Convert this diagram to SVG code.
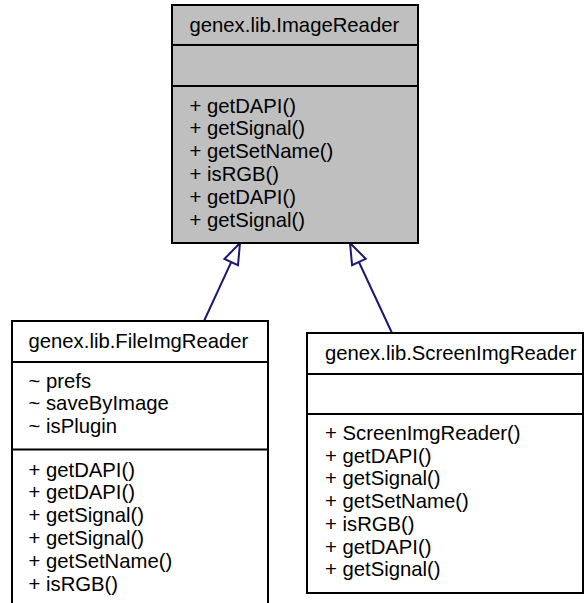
<svg xmlns="http://www.w3.org/2000/svg" width="587" height="603" viewBox="0 0 587 603">
  <style>
    .box { stroke: #000000; stroke-width: 2; }
    .base { fill: #bfbfbf; }
    .sub { fill: #ffffff; }
    .sep { stroke: #000000; stroke-width: 2; }
    text { font-family: "Liberation Sans", Arial, sans-serif; font-size: 20.3px; fill: #000000; }
    .edge { stroke: #191970; stroke-width: 2; fill: none; }
    .head { stroke: #191970; stroke-width: 2; fill: #ffffff; stroke-linejoin: miter; }
  </style>

  <rect width="587" height="603" fill="#ffffff"/>

  <!-- inheritance edges -->
  <g id="edges">
    <line class="edge" x1="204" y1="321" x2="231.2" y2="262.1"/>
    <polygon class="head" points="240,243 238,265.2 224.4,259"/>
    <line class="edge" x1="392" y1="333" x2="358.9" y2="262"/>
    <polygon class="head" points="350,243 365.7,258.8 352.1,265.2"/>
  </g>

  <!-- base class -->
  <g id="ImageReader">
    <rect class="box base" x="172" y="5" width="246" height="238"/>
    <line class="sep" x1="172" y1="45" x2="418" y2="45"/>
    <line class="sep" x1="172" y1="86" x2="418" y2="86"/>
    <text x="189.5" y="31.5">genex.lib.ImageReader</text>
    <text x="189.5" y="112.5">+ getDAPI()</text>
    <text x="189.5" y="135.3">+ getSignal()</text>
    <text x="189.5" y="158.1">+ getSetName()</text>
    <text x="189.5" y="180.9">+ isRGB()</text>
    <text x="189.5" y="203.7">+ getDAPI()</text>
    <text x="189.5" y="226.5">+ getSignal()</text>
  </g>

  <!-- file based reader -->
  <g id="FileImgReader">
    <rect class="box sub" x="12" y="321" width="256" height="290"/>
    <line class="sep" x1="12" y1="362" x2="268" y2="362"/>
    <line class="sep" x1="12" y1="449.5" x2="268" y2="449.5"/>
    <text x="28.5" y="347.5">genex.lib.FileImgReader</text>
    <text x="28.5" y="387.5">~ prefs</text>
    <text x="28.5" y="410.2">~ saveByImage</text>
    <text x="28.5" y="432.9">~ isPlugin</text>
    <text x="28.5" y="476.5">+ getDAPI()</text>
    <text x="28.5" y="499.4">+ getDAPI()</text>
    <text x="28.5" y="522.3">+ getSignal()</text>
    <text x="28.5" y="545.2">+ getSignal()</text>
    <text x="28.5" y="568.1">+ getSetName()</text>
    <text x="28.5" y="591">+ isRGB()</text>
  </g>

  <!-- screen based reader -->
  <g id="ScreenImgReader">
    <rect class="box sub" x="307" y="333" width="276" height="260"/>
    <line class="sep" x1="307" y1="374" x2="583" y2="374"/>
    <line class="sep" x1="307" y1="414" x2="583" y2="414"/>
    <text x="325" y="359.5">genex.lib.ScreenImgReader</text>
    <text x="325" y="440">+ ScreenImgReader()</text>
    <text x="325" y="462.7">+ getDAPI()</text>
    <text x="325" y="485.4">+ getSignal()</text>
    <text x="325" y="508.1">+ getSetName()</text>
    <text x="325" y="530.8">+ isRGB()</text>
    <text x="325" y="553.5">+ getDAPI()</text>
    <text x="325" y="576.2">+ getSignal()</text>
  </g>
</svg>
